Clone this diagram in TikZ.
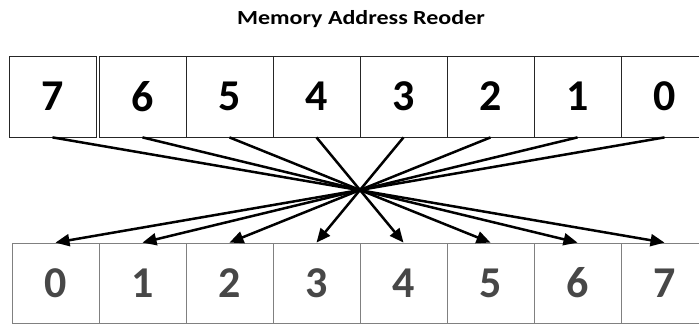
\documentclass[tikz,border=0pt]{standalone}
\usepackage{fontspec}
\setmainfont{Carlito}
\newfontfamily\titlefont[FakeStretch=1.2]{Carlito}
\usetikzlibrary{arrows.meta}

\begin{document}
\begin{tikzpicture}[x=1pt,y=-1pt,
	topbox/.style={draw=black!85,line width=0.8pt,minimum width=87pt,minimum height=81pt,inner sep=0pt,font=\fontsize{44}{44}\selectfont\bfseries},
	botbox/.style={draw=black!50,line width=0.8pt,minimum width=87pt,minimum height=80pt,inner sep=0pt,text=black!72,font=\fontsize{44}{44}\selectfont\bfseries},
	arr/.style={line width=2.5pt,-{Triangle[length=14pt,width=12pt]}}]
	\useasboundingbox (0,0) rectangle (699,326);
	\clip (0,0) rectangle (699,326);
	\node[font=\titlefont\fontsize{20}{22}\selectfont\bfseries] (title) at (361,19) {Memory Address Reoder};
	% upper row, 7 sits apart
	\node[topbox] (t7) at (52.5,96.5) {7};
	\foreach \i in {6,...,0}
		\node[topbox] (t\i) at ({142.5+87*(6-\i)},96.5) {\i};
	% lower row
	\node[botbox] (b0) at (55.5,283) {0};
	\foreach \i in {1,...,7}
		\node[botbox] (b\i) at ({142.5+87*(\i-1)},283) {\i};
	\foreach \i in {0,...,7}
		\draw[arr] (t\i.south) -- (b\i.north);
\end{tikzpicture}
\end{document}
